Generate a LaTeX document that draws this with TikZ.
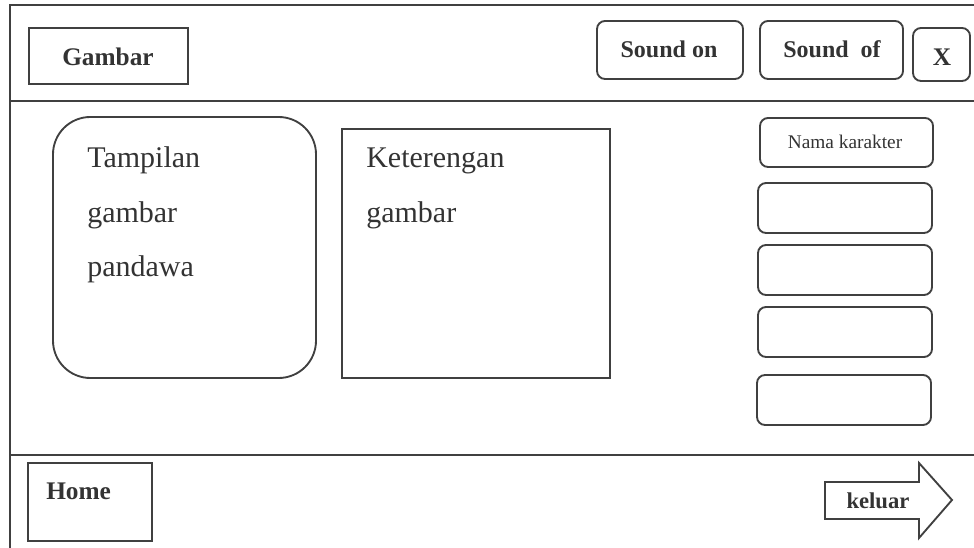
\documentclass[tikz,border=0pt]{standalone}
\usepackage{fontspec}
\setmainfont{Liberation Serif}
\usetikzlibrary{fit}
\tikzset{
  px/.style={x=0.75pt,y=-0.75pt},
  ln/.style={draw=black!75,line width=1.4pt},
  sqbox/.style={ln,rectangle,inner sep=0pt},
  rbox/.style={ln,rectangle,rounded corners=6pt,inner sep=0pt},
  btxt/.style={font=\fontsize{19}{23}\selectfont\bfseries,text=black!80,inner sep=0pt},
  stxt/.style={font=\fontsize{18}{22}\selectfont\bfseries,text=black!80,inner sep=0pt},
  bigtxt/.style={font=\fontsize{22.5}{27}\selectfont,text=black!80,inner sep=0pt,anchor=base west},
}
\begin{document}
\begin{tikzpicture}[px]
\useasboundingbox (0,0) rectangle (974,548);
% outer frame and separators
\coordinate (tl) at (10,5);
\coordinate (tr) at (976,5);
\coordinate (bl) at (10,550);
\coordinate (hl) at (10,101);
\coordinate (hr) at (976,101);
\coordinate (fl) at (10,455);
\coordinate (fr) at (976,455);
\draw[ln] (bl) -- (tl) -- (tr);
\draw[ln] (hl) -- (hr);
\draw[ln] (fl) -- (fr);
% header
\node[sqbox,fit={(29,28) (188,84)}] (gambar) {};
\node[btxt] (gambart) at (108,57) {Gambar};
\node[rbox,fit={(597,21) (743,79)}] (son) {};
\node[stxt] (sont) at (669,49) {Sound on};
\node[rbox,fit={(760,21) (903,79)}] (sof) {};
\node[stxt] (soft) at (832,49) {Sound\ \ of};
\node[rbox,fit={(913,28) (970,81)}] (x) {};
\node[btxt] (xt) at (942,57) {X};
% main content
\node[ln,rectangle,rounded corners=28pt,inner sep=0pt,fit={(53,117) (316,378)}] (tamp) {};
\node[bigtxt] (t1) at (87,168) {Tampilan};
\node[bigtxt] (t2) at (87,223) {gambar};
\node[bigtxt] (t3) at (87,277) {pandawa};
\node[sqbox,fit={(342,129) (610,378)}] (ket) {};
\node[bigtxt] (k1) at (366,168) {Keterengan};
\node[bigtxt] (k2) at (366,223) {gambar};
% right column
\node[rbox,fit={(760,118) (933,167)}] (nama) {};
\node[font=\fontsize{14.5}{17}\selectfont,text=black!80,inner sep=0pt] (namat) at (845,142) {Nama karakter};
\node[rbox,fit={(758,183) (932,233)}] (c2) {};
\node[rbox,fit={(758,245) (932,295)}] (c3) {};
\node[rbox,fit={(758,307) (932,357)}] (c4) {};
\node[rbox,fit={(757,375) (931,425)}] (c5) {};
% footer
\node[sqbox,fit={(28,463) (152,541)}] (home) {};
\node[btxt,anchor=base west] (homet) at (46,499) {Home};
\draw[ln,line join=miter] (825,482) -- (919,482) -- (919,463) -- (952,500) -- (919,538) -- (919,519) -- (825,519) -- cycle;
\node[font=\fontsize{17}{20}\selectfont\bfseries,text=black!80,inner sep=0pt] (keluar) at (878,501) {keluar};
\end{tikzpicture}
\end{document}
